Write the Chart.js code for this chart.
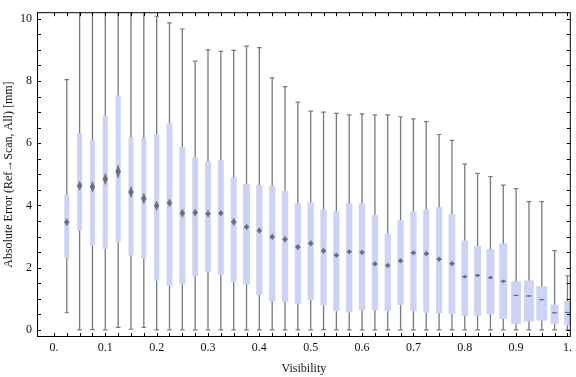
<!DOCTYPE html>
<html>
<head>
<meta charset="utf-8">
<script src="https://cdn.jsdelivr.net/npm/chart.js@4"></script>
<style>
  html, body { margin: 0; padding: 0; background: #fff; }
  #wrap { width: 576px; height: 377px; }
</style>
</head>
<body>
<div id="wrap"><canvas id="errorChart"></canvas></div>
<script>
// visibility bins (box centres)
const visibility = [0.025, 0.05, 0.075, 0.1, 0.125, 0.15, 0.175, 0.2, 0.225, 0.25,
    0.275, 0.3, 0.325, 0.35, 0.375, 0.4, 0.425, 0.45, 0.475, 0.5,
    0.525, 0.55, 0.575, 0.6, 0.625, 0.65, 0.675, 0.7, 0.725, 0.75,
    0.775, 0.8, 0.825, 0.85, 0.875, 0.9, 0.925, 0.95, 0.975, 1.0];

// absolute error [mm]
const whiskerLow = [0.55, 0, 0.01, 0, 0.08, 0.02, 0.08, 0, 0, 0,
    0, 0, 0, 0, 0, 0, 0, 0, 0, 0,
    0.01, 0, 0, 0, 0, 0, 0, 0, 0, 0,
    0, 0, 0, 0, 0, 0, 0, 0, 0, 0];
const lowerQuartile = [2.32, 3.20, 2.71, 2.60, 2.83, 2.39, 2.29, 1.58, 1.41, 1.47,
    1.72, 1.85, 1.76, 1.55, 1.46, 1.13, 0.92, 0.90, 0.85, 0.96,
    0.78, 0.61, 0.56, 0.63, 0.63, 0.60, 0.80, 0.61, 0.55, 0.53,
    0.51, 0.45, 0.45, 0.50, 0.35, 0.19, 0.27, 0.30, 0.19, 0.15];
const median = [3.46, 4.63, 4.60, 4.85, 5.09, 4.43, 4.22, 3.99, 4.08, 3.75,
    3.77, 3.73, 3.75, 3.47, 3.31, 3.19, 2.99, 2.91, 2.66, 2.78,
    2.54, 2.40, 2.51, 2.49, 2.12, 2.07, 2.22, 2.48, 2.45, 2.27,
    2.13, 1.71, 1.75, 1.68, 1.56, 1.11, 1.09, 0.97, 0.55, 0.56];
const upperQuartile = [4.35, 6.32, 6.10, 6.88, 7.54, 6.19, 6.16, 6.28, 6.64, 5.88,
    5.54, 5.41, 5.45, 4.90, 4.68, 4.65, 4.62, 4.46, 4.07, 4.10,
    3.87, 3.81, 4.07, 4.07, 3.69, 3.09, 3.53, 3.81, 3.87, 3.94,
    3.72, 2.87, 2.69, 2.59, 2.78, 1.56, 1.59, 1.40, 0.81, 0.93];
const whiskerHigh = [8.04, 11.5, 12.0, 12.5, 12.5, 11.5, 11.0, 10.08, 9.87, 9.67,
    8.64, 9.00, 8.95, 8.98, 9.12, 9.07, 8.10, 7.82, 7.32, 7.03,
    7.00, 6.96, 6.91, 6.94, 6.91, 6.91, 6.85, 6.78, 6.69, 6.28,
    6.09, 5.33, 5.03, 4.93, 4.65, 4.54, 4.12, 4.12, 2.55, 1.74];
// median notch half height [mm]
const notchHalf = [0.13, 0.16, 0.19, 0.20, 0.23, 0.20, 0.19, 0.16, 0.14, 0.15,
    0.13, 0.13, 0.11, 0.13, 0.11, 0.11, 0.11, 0.11, 0.11, 0.11,
    0.11, 0.09, 0.09, 0.09, 0.09, 0.09, 0.09, 0.09, 0.09, 0.09,
    0.09, 0.06, 0.06, 0.06, 0.06, 0.02, 0.02, 0.02, 0.015, 0.015];

// ticks
const xTicks = [0, 0.1, 0.2, 0.3, 0.4, 0.5, 0.6, 0.7, 0.8, 0.9, 1];
const yTicks = [0, 2, 4, 6, 8, 10];

// style: box width as a share of the bin spacing
const boxShare = [0.39, 0.39, 0.39, 0.39, 0.39, 0.39, 0.39, 0.41, 0.46, 0.46,
    0.46, 0.46, 0.46, 0.46, 0.54, 0.49, 0.49, 0.49, 0.49, 0.49,
    0.49, 0.49, 0.49, 0.49, 0.49, 0.49, 0.49, 0.49, 0.47, 0.47,
    0.53, 0.53, 0.54, 0.62, 0.62, 0.77, 0.77, 0.85, 0.62, 0.5];
const binHalf = 0.0125;

const serif = 'Liberation Serif';
const grey = '#7a7a7a';

const xMinor = [0].concat(visibility);
const yMinor = [];
for (let v = 0; v <= 10; v += 0.5) yMinor.push(v);

const boxWidths = {
    id: 'boxWidths',
    beforeDatasetsDraw(chart) {
        const x = chart.scales.x;
        chart.getDatasetMeta(1).data.forEach((bar, i) => {
            bar.width = x.getPixelForValue(visibility[i] + boxShare[i] * binHalf) -
                x.getPixelForValue(visibility[i] - boxShare[i] * binHalf);
        });
    }
};

const notches = {
    id: 'notches',
    afterDatasetsDraw(chart) {
        const {ctx, scales: {y}} = chart;
        ctx.save();
        ctx.fillStyle = 'rgba(105,105,110,0.9)';
        chart.getDatasetMeta(3).data.forEach((pt, i) => {
            const top = y.getPixelForValue(median[i] + notchHalf[i]);
            const bot = y.getPixelForValue(median[i] - notchHalf[i]);
            const hw = 2.5;
            ctx.beginPath();
            ctx.moveTo(pt.x, top);
            ctx.lineTo(pt.x + hw, pt.y);
            ctx.lineTo(pt.x, bot);
            ctx.lineTo(pt.x - hw, pt.y);
            ctx.closePath();
            ctx.fill();
            ctx.fillRect(pt.x - hw, pt.y - 0.6, hw * 2, 1.2);
        });
        ctx.restore();
    }
};

const frame = {
    id: 'frame',
    afterDraw(chart) {
        const {ctx, chartArea: a, scales: {x, y}} = chart;
        ctx.save();
        ctx.strokeStyle = '#000';
        ctx.lineWidth = 1;
        ctx.strokeRect(a.left + 0.5, a.top + 0.5, a.right - a.left - 1, a.bottom - a.top - 1);
        ctx.beginPath();
        xMinor.forEach(v => {
            const px = Math.round(x.getPixelForValue(v)) + 0.5;
            ctx.moveTo(px, a.bottom); ctx.lineTo(px, a.bottom - 4);
            ctx.moveTo(px, a.top); ctx.lineTo(px, a.top + 4);
        });
        yMinor.forEach(v => {
            const py = Math.round(y.getPixelForValue(v)) + 0.5;
            ctx.moveTo(a.left, py); ctx.lineTo(a.left + 4, py);
            ctx.moveTo(a.right, py); ctx.lineTo(a.right - 4, py);
        });
        ctx.stroke();
        ctx.restore();
    }
};

const caps = [];
visibility.forEach((v, i) => {
    caps.push({x: v, y: whiskerLow[i]});
    caps.push({x: v, y: whiskerHigh[i]});
});

new Chart(document.getElementById('errorChart'), {
    data: {
        datasets: [{
            type: 'bar',
            label: 'whisker',
            data: visibility.map((v, i) => ({x: v, y: [whiskerLow[i], whiskerHigh[i]]})),
            backgroundColor: grey,
            barThickness: 1.3,
            inflateAmount: 0,
            grouped: false,
            clip: 0,
            order: 3
        }, {
            type: 'bar',
            label: 'box',
            data: visibility.map((v, i) => ({x: v, y: [lowerQuartile[i], upperQuartile[i]]})),
            backgroundColor: '#ccd3f5',
            barThickness: 6,
            inflateAmount: 0,
            grouped: false,
            clip: 0,
            order: 2
        }, {
            type: 'scatter',
            label: 'caps',
            data: caps,
            pointStyle: 'line',
            pointRadius: 2.3,
            borderColor: grey,
            borderWidth: 1.2,
            clip: 0,
            order: 1
        }, {
            type: 'scatter',
            label: 'median',
            data: visibility.map((v, i) => ({x: v, y: median[i]})),
            pointRadius: 0,
            order: 0
        }]
    },
    options: {
        responsive: true,
        maintainAspectRatio: false,
        animation: false,
        layout: { padding: { top: 4, right: 2, left: 0, bottom: 0 } },
        plugins: {
            legend: { display: false },
            tooltip: { enabled: false }
        },
        scales: {
            x: {
                type: 'linear',
                offset: false,
                min: -0.033,
                max: 1.0065,
                grid: { display: false, drawTicks: false, offset: false },
                border: { display: false },
                afterBuildTicks: s => { s.ticks = xTicks.map(v => ({value: v})); },
                afterFit: s => { s.height = 40; },
                ticks: {
                    callback: v => v === 0 ? '0.' : v === 1 ? '1.' : v.toFixed(1),
                    font: { family: serif, size: 12 },
                    color: '#111',
                    padding: 4,
                    maxRotation: 0,
                    autoSkip: false
                },
                title: {
                    display: true,
                    text: 'Visibility',
                    font: { family: serif, size: 12 },
                    color: '#111',
                    padding: { top: 0, bottom: 1 }
                }
            },
            y: {
                min: -0.229,
                max: 10.21,
                grid: { display: false, drawTicks: false },
                border: { display: false },
                afterBuildTicks: s => { s.ticks = yTicks.map(v => ({value: v})); },
                afterFit: s => { s.width = 37; },
                ticks: {
                    font: { family: serif, size: 12 },
                    color: '#111',
                    padding: 5
                },
                title: {
                    display: true,
                    text: 'Absolute Error (Ref\u2192Scan, All) [mm]',
                    font: { family: serif, size: 12 },
                    color: '#111',
                    padding: { top: 2, bottom: 0 }
                }
            }
        }
    },
    plugins: [boxWidths, notches, frame]
});
</script>
</body>
</html>
